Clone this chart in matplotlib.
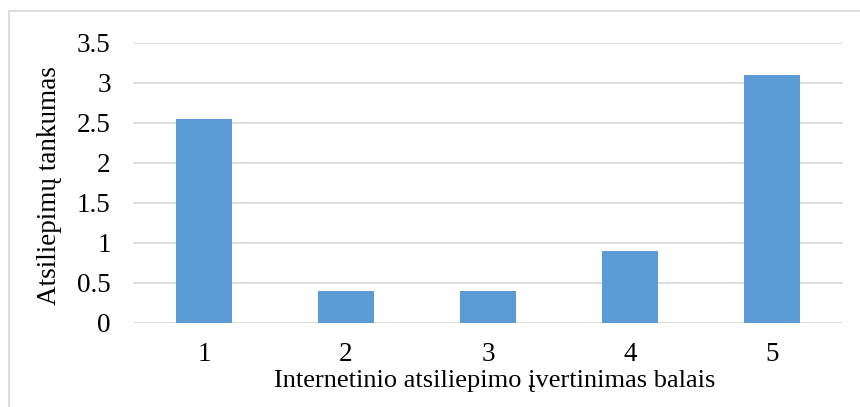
import matplotlib
matplotlib.use("Agg")
import matplotlib.pyplot as plt
from matplotlib.patches import Rectangle

categories = ["1", "2", "3", "4", "5"]
values = [2.55, 0.4, 0.4, 0.9, 3.1]
y_ticks = [0, 0.5, 1, 1.5, 2, 2.5, 3, 3.5]
y_tick_labels = ["0", "0.5", "1", "1.5", "2", "2.5", "3", "3.5"]
x_title = "Internetinio atsiliepimo įvertinimas balais"
y_title = "Atsiliepimų tankumas"

plt.rcParams["font.family"] = ["Liberation Serif", "DejaVu Serif"]

W, H = 860, 407
fig = plt.figure(figsize=(W / 100, H / 100), dpi=100)
fig.patch.set_facecolor("white")

# chart-area frame (only top and left edges fall inside the image)
fig.add_artist(Rectangle((9 / W, -0.1), 1.2, (H - 11) / H + 0.1,
                         transform=fig.transFigure, fill=False,
                         edgecolor="#D9D9D9", linewidth=1.3))

left, right = 133, 843
top, bottom = 43, 323
ax = fig.add_axes([left / W, 1 - bottom / H, (right - left) / W, (bottom - top) / H])

x = list(range(len(categories)))
ax.bar(x, values, width=0.4, color="#5B9BD5", zorder=3)

ax.set_xlim(-0.5, len(categories) - 0.5)
ax.set_ylim(0, 3.5)
ax.set_yticks(y_ticks)
ax.set_yticklabels(y_tick_labels)
ax.set_xticks(x)
ax.set_xticklabels(categories)
ax.yaxis.grid(True, color="#D9D9D9", linewidth=1.3, zorder=0)
ax.tick_params(axis="both", length=0, labelsize=19.5, colors="black")
ax.tick_params(axis="y", pad=16)
ax.tick_params(axis="x", pad=14)
for s in ax.spines.values():
    s.set_visible(False)

fig.text(495 / W, 1 - 381 / H, x_title, ha="center", va="center", fontsize=19)
fig.text(50 / W, 1 - 186 / H, y_title, ha="center", va="center",
         rotation=90, fontsize=19.5)

fig.savefig("out.png", dpi=100, facecolor="white")
